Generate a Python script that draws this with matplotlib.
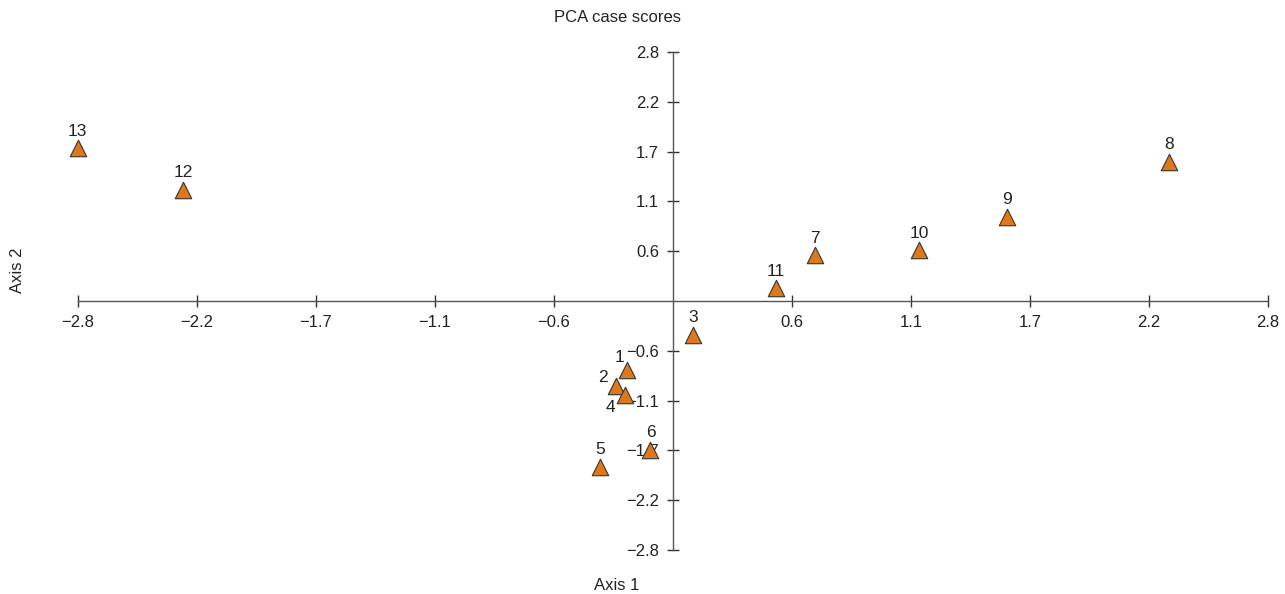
import matplotlib.pyplot as plt

plt.rcParams['font.family'] = ['Liberation Sans', 'DejaVu Sans']

# PCA case scores
cases = ['1', '2', '3', '4', '5', '6', '7', '8', '9', '10', '11', '12', '13']
axis1 = [-0.218, -0.268, 0.093, -0.228, -0.345, -0.106, 0.668, 2.334, 1.570, 1.157, 0.485, -2.304, -2.802]
axis2 = [-0.776, -0.958, -0.382, -1.061, -1.864, -1.670, 0.512, 1.564, 0.945, 0.568, 0.141, 1.249, 1.715]

tick_values = [-2.8, -2.24, -1.68, -1.12, -0.56, 0.56, 1.12, 1.68, 2.24, 2.8]
tick_labels = ['\u22122.8', '\u22122.2', '\u22121.7', '\u22121.1', '\u22120.6',
               '0.6', '1.1', '1.7', '2.2', '2.8']

# label offsets in pixels (most labels sit above the marker)
offsets = {'1': (-7, 13), '2': (-13, 9), '4': (-14, -12)}

fig = plt.figure(figsize=(12.85, 5.94), dpi=100)
ax = fig.add_axes([78 / 1285, 44 / 594, 1190 / 1285, 498 / 594])

ax.scatter(axis1, axis2, marker='^', s=140, color='#E0781A',
           edgecolors='#333333', linewidths=0.8, zorder=3, clip_on=False)

for name, x, y in zip(cases, axis1, axis2):
    dx, dy = offsets.get(name, (0, 17))
    ax.annotate(name, (x, y), xytext=(dx, dy), textcoords='offset pixels',
                ha='center', va='center', fontsize=12.5, color='#222222',
                zorder=4, annotation_clip=False)

ax.set_xlim(-2.8, 2.8)
ax.set_ylim(-2.8, 2.8)

for side in ['top', 'right']:
    ax.spines[side].set_visible(False)
for side in ['left', 'bottom']:
    ax.spines[side].set_position('zero')
    ax.spines[side].set_color('#555555')
    ax.spines[side].set_linewidth(1.0)

ax.set_xticks(tick_values)
ax.set_xticklabels(tick_labels)
ax.set_yticks(tick_values)
ax.set_yticklabels(tick_labels)
ax.tick_params(direction='inout', length=8, width=1.0, color='#333333',
               labelsize=12, labelcolor='#222222', pad=6)

fig.text(617 / 1285, 1 - 18 / 594, 'PCA case scores', ha='center', va='center',
         fontsize=12, color='#222222')
fig.text(617 / 1285, 1 - 586 / 594, 'Axis 1', ha='center', va='center',
         fontsize=12, color='#222222')
fig.text(18 / 1285, 1 - 270 / 594, 'Axis 2', ha='center', va='center',
         rotation=90, fontsize=12, color='#222222')

fig.savefig('out.png', dpi=100)
